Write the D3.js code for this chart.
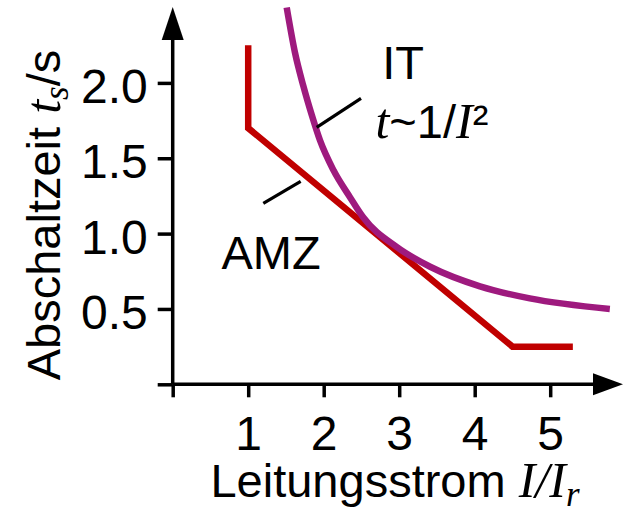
<!DOCTYPE html>
<html>
<head>
<meta charset="utf-8">
<script src="https://cdn.jsdelivr.net/npm/d3@7"></script>
<style>
  html, body { margin: 0; padding: 0; background: #fff; overflow: hidden; }
  text { font-family: "Liberation Sans", Arial, sans-serif; fill: #000; }
  .it { font-family: "Liberation Serif", "Times New Roman", serif; font-style: italic; }
</style>
</head>
<body>
<script>
// data
const xTicks = [1, 2, 3, 4, 5];
const yTicks = [0.5, 1.0, 1.5, 2.0];

// AMZ trip characteristic (I/Ir, t in s)
const amzCurve = [
    [1.0, 2.25], [1.0, 1.70], [4.5, 0.25], [5.3, 0.25]
];

// IT curve, t ~ 1/I^2
const itCurve = [
    [1.51, 2.50], [1.62, 2.20], [1.73, 1.98], [1.84, 1.79], [1.95, 1.62],
    [2.13, 1.42], [2.35, 1.24], [2.52, 1.11], [2.97, 0.91], [3.41, 0.78],
    [4.07, 0.65], [4.73, 0.57], [5.79, 0.50]
];

// leader lines for the labels, data coordinates
const leaders = [
    [[1.907, 1.705], [2.494, 1.897]],
    [[1.200, 1.200], [1.695, 1.346]]
];

const width = 624, height = 509;
const fontSize = 47;
const tickFont = 48;
const italicSize = 50;

const svg = d3.select("body")
    .append("svg")
    .attr("width", width)
    .attr("height", height);

const x = d3.scaleLinear().domain([0, 5]).range([172.7, 172.7 + 5 * 75.5]);
const y = d3.scaleLinear().domain([0, 2]).range([384.3, 384.3 - 2 * 150.7]);

const axisW = 3.5;

// x axis ticks + labels
const xAxis = svg.append("g")
    .attr("transform", `translate(0,${y(0)})`)
    .call(d3.axisBottom(x).tickValues([0, ...xTicks]).tickSize(13).tickSizeOuter(0)
        .tickPadding(19).tickFormat(d => d === 0 ? "" : d3.format("d")(d)));
xAxis.select(".domain").remove();
xAxis.selectAll(".tick line").attr("stroke", "#000").attr("stroke-width", axisW);
xAxis.selectAll(".tick text")
    .attr("font-size", tickFont)
    .attr("font-family", "Liberation Sans, Arial, sans-serif")
    .attr("fill", "#000");

// y axis ticks + labels
const yAxis = svg.append("g")
    .attr("transform", `translate(${x(0)},0)`)
    .call(d3.axisLeft(y).tickValues([0, ...yTicks]).tickSize(15).tickSizeOuter(0)
        .tickPadding(10).tickFormat(d => d === 0 ? "" : d3.format(".1f")(d)));
yAxis.select(".domain").remove();
yAxis.selectAll(".tick line").attr("stroke", "#000").attr("stroke-width", axisW);
yAxis.selectAll(".tick text")
    .attr("font-size", tickFont)
    .attr("dy", "0.41em")
    .attr("font-family", "Liberation Sans, Arial, sans-serif")
    .attr("fill", "#000");

// axis lines with arrows
svg.append("line")
    .attr("x1", x(0)).attr("x2", 596)
    .attr("y1", y(0)).attr("y2", y(0))
    .attr("stroke", "#000").attr("stroke-width", axisW);
svg.append("path")
    .attr("d", `M623,${y(0)} L593,${y(0) - 11} L593,${y(0) + 11} Z`)
    .attr("fill", "#000");

svg.append("line")
    .attr("x1", x(0)).attr("x2", x(0))
    .attr("y1", y(0)).attr("y2", 37)
    .attr("stroke", "#000").attr("stroke-width", axisW);
svg.append("path")
    .attr("d", `M${x(0)},7 L${x(0) - 11},40 L${x(0) + 11},40 Z`)
    .attr("fill", "#000");

// curves
const line = d3.line().x(d => x(d[0])).y(d => y(d[1]));

svg.append("path")
    .datum(amzCurve)
    .attr("d", line)
    .attr("fill", "none")
    .attr("stroke", "#c00000")
    .attr("stroke-width", 6.5)
    .attr("stroke-linejoin", "miter")
    .attr("stroke-linecap", "butt");

svg.append("path")
    .datum(itCurve)
    .attr("d", line.curve(d3.curveMonotoneX))
    .attr("fill", "none")
    .attr("stroke", "#9e1a7e")
    .attr("stroke-width", 6.5)
    .attr("stroke-linecap", "butt");

// leader lines
svg.selectAll(".leader")
    .data(leaders)
    .join("line")
    .attr("class", "leader")
    .attr("x1", d => x(d[0][0])).attr("y1", d => y(d[0][1]))
    .attr("x2", d => x(d[1][0])).attr("y2", d => y(d[1][1]))
    .attr("stroke", "#000").attr("stroke-width", 3.2);

// labels
svg.append("text")
    .attr("x", x(2.775)).attr("y", y(2.028))
    .attr("font-size", fontSize)
    .text("IT");

const tLabel = svg.append("text")
    .attr("x", x(2.685)).attr("y", y(1.636))
    .attr("font-size", fontSize);
tLabel.append("tspan").attr("class", "it").attr("font-size", italicSize).text("t");
tLabel.append("tspan").text("~1/");
tLabel.append("tspan").attr("class", "it").attr("font-size", italicSize).text("I");
tLabel.append("tspan").text("²");

svg.append("text")
    .attr("x", x(0.645)).attr("y", y(0.767))
    .attr("font-size", fontSize)
    .text("AMZ");

// axis titles
const xTitle = svg.append("text")
    .attr("x", 395).attr("y", 497)
    .attr("text-anchor", "middle")
    .attr("font-size", fontSize);
xTitle.append("tspan").text("Leitungsstrom ");
xTitle.append("tspan").attr("class", "it").attr("font-size", italicSize).text("I/I");
xTitle.append("tspan").attr("class", "it").attr("font-size", 35).attr("dy", 9).text("r");

const yTitle = svg.append("text")
    .attr("transform", "translate(60,215) rotate(-90)")
    .attr("text-anchor", "middle")
    .attr("font-size", fontSize);
yTitle.append("tspan").text("Abschaltzeit ");
yTitle.append("tspan").attr("class", "it").attr("font-size", italicSize).text("t");
yTitle.append("tspan").attr("class", "it").attr("font-size", 35).attr("dy", 8).text("s");
yTitle.append("tspan").attr("dy", -8).text("/s");
</script>
</body>
</html>
